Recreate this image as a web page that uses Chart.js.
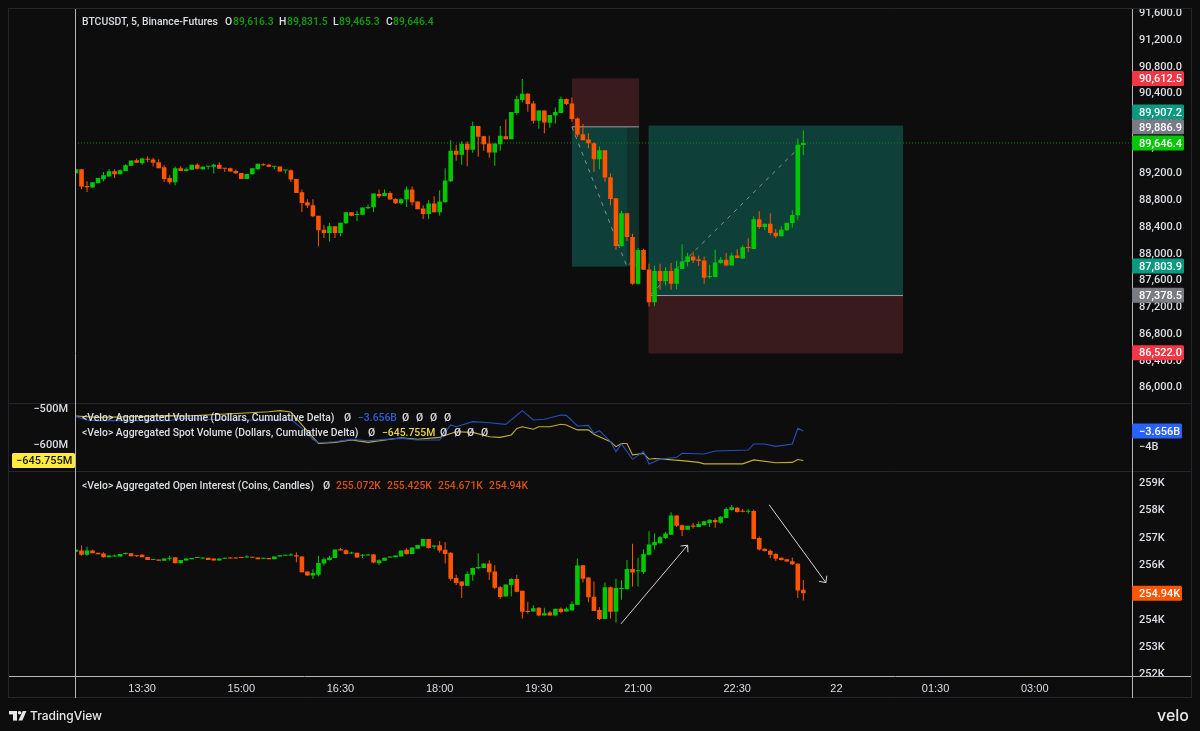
<!DOCTYPE html>
<html><head><meta charset="utf-8">
<style>html,body{margin:0;padding:0;background:#0d0d0d}canvas{display:block}</style>
<script src="https://cdn.jsdelivr.net/npm/chart.js@4"></script>
</head><body><canvas id="c" width="1200" height="731"></canvas>
<script>
// BTCUSDT 5-minute candles (one per bar, starting 12:30)
const btcOpen=[89193,89253,89003,88978,89043,89103,89143,89223,89178,89228,89303,89388,89343,89408,89398,89358,89283,89123,89058,89268,89228,89243,89318,89253,89288,89288,89318,89263,89268,89228,89198,89108,89178,89253,89323,89318,89288,89293,89233,89238,89108,88908,88758,88713,88558,88348,88298,88398,88298,88443,88608,88568,88573,88668,88683,88883,88853,88898,88808,88743,88798,88948,88768,88663,88583,88738,88608,88758,89073,89528,89468,89633,89543,89898,89748,89638,89503,89628,89748,89703,90093,90288,90383,90238,89978,90133,89948,90058,90093,90303,90238,90013,89778,89698,89643,89403,89538,89133,88818,88103,88593,88238,87538,88043,87753,87263,87728,87578,87728,87538,87758,87863,87948,87903,87888,87638,87638,87848,87898,87813,87963,87918,88083,88058,88503,88388,88438,88303,88248,88338,88448,88563,89616.3];
const btcHigh=[89253,89253,89073,89058,89123,89213,89253,89253,89248,89328,89383,89413,89423,89448,89423,89403,89313,89163,89293,89298,89278,89318,89343,89298,89298,89333,89358,89263,89278,89243,89198,89183,89268,89333,89343,89333,89293,89293,89238,89248,89108,88948,88803,88803,88558,88413,88453,88398,88453,88618,88608,88633,88678,88723,88888,88948,88948,88923,88818,88818,88993,88993,88768,88713,88793,88848,88938,89268,89688,89618,89673,89673,89963,89898,89753,89753,89638,89898,89998,90108,90353,90603,90393,90273,90133,90133,90063,90178,90343,90313,90328,90028,89928,89793,89658,89593,89538,89188,88818,88633,88593,88288,88073,88063,87838,87808,87838,87788,87848,87883,88128,88003,88023,87963,87948,87823,88048,87938,87998,88003,88053,88113,88218,88548,88623,88438,88593,88358,88398,88453,88638,89713,89831.5];
const btcLow=[89193,88953,88913,88978,89043,89073,89143,89123,89178,89228,89303,89348,89318,89358,89293,89268,89063,89028,89013,89228,89218,89243,89248,89243,89248,89188,89258,89213,89218,89183,89108,89108,89178,89243,89303,89283,89253,89218,89188,89063,88898,88613,88673,88533,88098,88223,88168,88223,88248,88433,88548,88478,88573,88658,88613,88823,88848,88798,88733,88723,88688,88708,88653,88508,88508,88608,88558,88758,89063,89378,89318,89298,89498,89438,89528,89423,89303,89528,89703,89703,90068,90253,90113,89938,89858,89793,89873,89938,90093,90213,89963,89738,89688,89568,89213,89253,89063,88713,88048,88088,88178,87523,87528,87748,87198,87203,87448,87513,87448,87458,87758,87798,87848,87803,87538,87613,87638,87838,87808,87813,87923,87908,88013,88058,88358,88338,88268,88223,88248,88328,88378,88488,89465.3];
const btcClose=[89253,88993,88983,89058,89123,89163,89223,89178,89238,89313,89383,89348,89413,89393,89348,89268,89108,89058,89268,89228,89253,89318,89258,89288,89298,89318,89258,89258,89218,89193,89108,89183,89268,89333,89313,89288,89293,89218,89238,89098,88898,88748,88708,88548,88338,88298,88398,88298,88453,88608,88558,88578,88678,88688,88888,88848,88898,88798,88743,88803,88948,88758,88653,88583,88738,88608,88768,89083,89528,89468,89633,89543,89898,89738,89628,89503,89638,89753,89703,90108,90303,90383,90228,89978,90133,89953,90063,90108,90303,90228,90003,89768,89688,89643,89403,89538,89128,88808,88103,88593,88238,87538,88043,87748,87263,87728,87578,87728,87538,87768,87873,87948,87888,87878,87628,87653,87858,87898,87813,87963,87923,88083,88073,88503,88388,88438,88298,88248,88348,88453,88568,89618,89646.4];
// Aggregated open interest candles, thousands of coins
const oiOpen=[256.46,256.51,256.35,256.51,256.42,256.40,256.26,256.29,256.29,256.38,256.41,256.32,256.35,256.27,256.16,256.18,256.13,256.20,256.26,256.04,256.14,256.19,256.23,256.21,256.24,256.21,256.14,256.20,256.25,256.25,256.26,256.25,256.27,256.25,256.20,256.23,256.19,256.29,256.31,256.32,256.33,256.29,255.74,255.59,255.62,256.03,256.16,256.23,256.55,256.52,256.40,256.42,256.31,256.32,256.36,256.04,256.13,256.25,256.26,256.29,256.53,256.38,256.57,256.66,256.93,256.64,256.70,256.53,256.42,255.50,255.37,255.22,255.62,255.86,255.87,256.03,255.74,255.16,254.82,255.24,255.46,255.03,254.29,254.27,254.41,254.13,254.24,254.13,254.37,254.27,254.31,254.52,255.97,255.52,254.81,254.33,254.00,255.16,254.26,255.10,255.09,255.83,255.75,255.72,256.35,256.70,256.77,256.96,257.08,257.79,257.43,257.27,257.42,257.37,257.43,257.51,257.62,257.52,257.70,257.99,258.07,257.96,257.93,257.95,256.96,256.57,256.50,256.38,256.24,256.19,256.11,256.02,255.072];
const oiHigh=[256.53,256.69,256.64,256.53,256.42,256.44,256.32,256.35,256.38,256.43,256.41,256.32,256.37,256.27,256.19,256.18,256.21,256.31,256.26,256.16,256.21,256.23,256.25,256.25,256.24,256.21,256.21,256.23,256.25,256.25,256.26,256.33,256.27,256.25,256.24,256.23,256.29,256.33,256.33,256.41,256.43,256.29,255.74,255.82,256.31,256.25,256.31,256.54,256.60,256.55,256.46,256.42,256.38,256.36,256.38,256.19,256.24,256.27,256.32,256.51,256.59,256.62,256.71,256.93,256.93,256.69,256.85,256.82,256.44,255.62,255.37,255.74,255.88,256.41,256.03,256.15,255.97,255.21,255.26,255.49,255.62,255.03,254.63,254.50,254.43,254.41,254.29,254.37,254.42,254.43,254.65,256.21,255.97,255.52,255.37,254.43,255.33,255.19,255.47,255.42,256.16,256.75,256.24,256.55,257.21,257.14,257.04,257.19,257.91,257.79,257.46,257.41,257.51,257.57,257.60,257.65,257.69,257.76,258.08,258.17,258.10,258.03,258.02,258.00,257.02,256.59,256.54,256.41,256.26,256.20,256.25,256.04,255.425];
const oiLow=[256.46,256.31,256.31,256.41,256.37,256.25,256.26,256.29,256.29,256.36,256.30,256.27,256.26,256.16,256.16,256.13,256.13,256.13,256.04,256.04,256.14,256.19,256.23,256.21,256.16,256.14,256.14,256.20,256.21,256.21,256.23,256.25,256.24,256.19,256.20,256.19,256.19,256.29,256.31,256.32,256.08,255.71,255.59,255.46,255.55,255.96,256.14,256.23,256.51,256.36,256.38,256.25,256.23,256.32,256.04,255.98,256.13,256.25,256.26,256.29,256.35,256.38,256.57,256.66,256.58,256.55,256.43,256.03,255.40,255.24,254.77,255.22,255.40,255.82,255.87,255.43,255.10,254.74,254.82,254.82,254.98,254.02,254.20,254.27,254.10,254.13,254.13,254.13,254.21,254.27,254.31,254.52,255.33,254.61,254.29,253.96,254.00,254.02,253.87,254.70,255.09,255.19,255.19,255.65,256.32,256.54,256.75,256.93,257.08,257.37,257.04,257.27,257.31,257.37,257.43,257.37,257.34,257.49,257.70,257.96,257.90,257.91,257.85,256.92,256.51,256.47,256.23,256.13,256.14,256.09,255.98,254.77,254.671];
const oiClose=[256.53,256.35,256.51,256.41,256.37,256.26,256.32,256.32,256.38,256.41,256.30,256.30,256.26,256.16,256.19,256.13,256.21,256.23,256.04,256.16,256.21,256.23,256.25,256.25,256.16,256.14,256.21,256.23,256.21,256.21,256.23,256.29,256.24,256.19,256.24,256.19,256.29,256.33,256.33,256.35,256.29,255.71,255.59,255.68,256.05,256.19,256.25,256.54,256.51,256.38,256.43,256.25,256.35,256.36,256.07,256.15,256.24,256.27,256.32,256.51,256.38,256.62,256.71,256.93,256.60,256.69,256.51,256.38,255.47,255.32,255.22,255.65,255.87,255.90,256.03,255.71,255.14,254.80,255.26,255.46,255.00,254.26,254.25,254.39,254.13,254.21,254.13,254.37,254.25,254.37,254.55,255.96,255.47,254.79,254.29,254.00,255.16,254.26,255.13,255.13,255.83,255.70,255.77,256.38,256.73,256.82,256.99,257.13,257.79,257.41,257.26,257.41,257.38,257.48,257.58,257.63,257.54,257.74,258.03,258.09,257.92,257.93,257.96,256.93,256.54,256.49,256.35,256.20,256.16,256.10,256.00,255.04,254.94];
// Aggregated cumulative delta, dollars (billions), sampled at bar indices
const volBars=[0,2,4,10,17,19,24,29,38,39,41,43,44,47,50,53,56,59,62,66,68,69,72,75,78,81,83,85,88,89,91,93,94,95,97,98,99,101,103,104,106,109,110,114,116,122,123,125,127,130,131,132];
const volDelta=[-3.327,-3.404,-3.419,-3.419,-3.419,-3.365,-3.388,-3.404,-3.404,-3.388,-3.595,-3.847,-3.924,-3.901,-3.847,-3.878,-3.847,-3.824,-3.862,-3.862,-3.518,-3.557,-3.442,-3.465,-3.503,-3.190,-3.404,-3.388,-3.289,-3.297,-3.541,-3.526,-3.710,-3.648,-3.901,-4.130,-3.954,-4.306,-4.130,-4.413,-4.306,-4.260,-4.168,-4.183,-4.115,-4.092,-3.954,-3.954,-4.008,-3.954,-3.595,-3.656];
// Aggregated spot cumulative delta, dollars (millions)
const spotBars=[0,4,10,17,20,29,35,37,39,41,44,47,50,53,59,62,66,68,69,72,75,77,79,80,81,83,84,86,88,89,91,93,94,97,98,99,100,101,103,104,105,110,113,114,121,123,127,130,131,132];
const spotDelta=[-521,-525,-523,-520,-521,-514,-509,-506,-510,-546,-598,-595,-588,-595,-582,-586,-581,-570,-565,-567,-579,-581,-574,-556,-551,-558,-551,-551,-544,-546,-560,-560,-572,-593,-607,-598,-598,-630,-626,-642,-640,-646,-651,-655,-655,-644,-652,-651,-643,-645.755];
// Axis ticks
const timeTickBars=[12,30,48,66,84,102,120,138,156,174];
const timeTickLabels=['13:30','15:00','16:30','18:00','19:30','21:00','22:30','22','01:30','03:00'];
const priceTicks=[86000,86400,86800,87200,87600,88000,88400,88800,89200,89600,90000,90400,90800,91200,91600];
const oiTicks=[252,253,254,255,256,257,258,259];
const volTicks=[-4];
const spotTicks=[-500,-600];
// Position drawings on the price pane (bar index / price)
const tradeA=[90,102.2,90612.5,89886.9,87795];
const tradeB=[103.9,150.1,89907.2,87362,86495];
const tradeAShadeStart=100;
const tradeAPath=[[90,89886.9],[100,87795],[101,87880]];
const tradeBPath=[[104.3,87378.5],[132,89640]];
// Arrows on the open interest pane
const arrowUp=[[98.9,253.82],[111,256.70]];
const arrowDown=[[125.8,258.18],[136.1,255.33]];
const lastPrice=89646.4;
// Colours
const UP='#00c800',DN='#ff5500',BG='#0d0d0d',TXT='#dcdee4',FRAME='#23262f',AXIS='#b4b4b4';
const FONT='Roboto',TICK='500 11px '+FONT,LEG='500 10.4px '+FONT;

const candle=(o,c)=>o.map((v,i)=>({x:i,y:[v,c[i]]}));
const wick=(l,h)=>l.map((v,i)=>({x:i,y:[v,h[i]]}));
const tone=(o,c)=>o.map((v,i)=>c[i]>=v?UP:DN);
const points=(b,v)=>b.map((x,i)=>({x,y:v[i]}));
const body={type:'bar',barThickness:4.6,minBarLength:1,borderWidth:0,inflateAmount:0,grouped:false};
const line={type:'bar',barThickness:1,minBarLength:1,borderWidth:0,inflateAmount:0,grouped:false};
const trace={type:'line',pointRadius:0,borderWidth:1.1,tension:0,xAxisID:'x'};
const kFmt=v=>v+'K';

const drawings={id:'drawings',
 beforeDraw(ch){const g=ch.ctx;g.save();g.fillStyle=BG;g.fillRect(0,0,1200,731);g.restore();},
 beforeDatasetsDraw(ch){
  const g=ch.ctx,X=ch.scales.x,Y=ch.scales.yPrice,px=v=>X.getPixelForValue(v),py=v=>Y.getPixelForValue(v);
  const box=(x0,x1,y0,y1,c)=>{g.fillStyle=c;g.fillRect(px(x0),py(y0),px(x1)-px(x0),py(y1)-py(y0));};
  g.save();
  box(tradeA[0],tradeA[1],tradeA[2],tradeA[3],'#391a1d');
  box(tradeA[0],tradeAShadeStart,tradeA[3],tradeA[4],'#0e3f39');
  box(tradeAShadeStart,tradeA[1],tradeA[3],tradeA[4],'#10302c');
  box(tradeB[0],tradeB[1],tradeB[2],tradeB[3],'#0e3f39');
  box(tradeB[0],tradeB[1],tradeB[3],tradeB[4],'#391a1d');
  g.strokeStyle='#9b9ea6';g.lineWidth=1;
  [tradeA,tradeB].forEach(t=>{g.beginPath();g.moveTo(px(t[0]),py(t[3]));g.lineTo(px(t[1]),py(t[3]));g.stroke();});
  g.strokeStyle='#8a9092';g.setLineDash([4,5]);
  [tradeAPath,tradeBPath].forEach(p=>{g.beginPath();p.forEach((q,i)=>i?g.lineTo(px(q[0]),py(q[1])):g.moveTo(px(q[0]),py(q[1])));g.stroke();});
  g.strokeStyle='#0c8a0c';g.setLineDash([1,2]);g.beginPath();g.moveTo(ch.chartArea.left,py(lastPrice));g.lineTo(ch.chartArea.right,py(lastPrice));g.stroke();
  g.restore();
 },
 afterDatasetsDraw(ch){
  const g=ch.ctx,X=ch.scales.x,Y=ch.scales.yOi;
  g.save();g.strokeStyle='#d4d4d4';g.lineWidth=1;
  [arrowUp,arrowDown].forEach(a=>{
   const x0=X.getPixelForValue(a[0][0]),y0=Y.getPixelForValue(a[0][1]),x1=X.getPixelForValue(a[1][0]),y1=Y.getPixelForValue(a[1][1]);
   const t=Math.atan2(y1-y0,x1-x0);
   g.beginPath();g.moveTo(x0,y0);g.lineTo(x1,y1);
   g.moveTo(x1-7*Math.cos(t-0.75),y1-7*Math.sin(t-0.75));g.lineTo(x1,y1);g.lineTo(x1-7*Math.cos(t+0.75),y1-7*Math.sin(t+0.75));g.stroke();
  });
  g.restore();
 },
 afterDraw(ch){
  const g=ch.ctx;g.save();
  // cover tick labels that run past the panes
  g.fillStyle=BG;g.fillRect(1133,0,67,8);g.fillRect(1133,677,67,21);
  const hline=(y,c)=>{g.strokeStyle=c;g.beginPath();g.moveTo(9,y);g.lineTo(1191,y);g.stroke();};
  const vline=(x,y0,y1,c)=>{g.strokeStyle=c;g.beginPath();g.moveTo(x,y0);g.lineTo(x,y1);g.stroke();};
  g.lineWidth=1;
  hline(8.5,FRAME);hline(403.5,FRAME);hline(471.5,FRAME);hline(697.5,FRAME);
  vline(8.5,8,698,FRAME);vline(1191.5,8,698,FRAME);
  hline(676.5,AXIS);vline(75.5,9,698,AXIS);vline(1132.5,9,698,AXIS);
  // legends
  const t=(s,x,y,c,f,a)=>{g.font=f||LEG;g.fillStyle=c;g.textAlign=a||'left';g.textBaseline='middle';g.fillText(s,x,y);};
  const GREEN='#0aa00a',ORG='#d9500f',BLUE='#2c5fd6',YEL='#e6d648';
  t('BTCUSDT, 5, Binance-Futures',82,22.5,TXT);
  [['O',225,'89,616.3',233],['H',279,'89,831.5',287],['L',333,'89,465.3',339],['C',386,'89,646.4',393]].forEach(r=>{t(r[0],r[1],22.5,TXT);t(r[2],r[3],22.5,GREEN);});
  t('<Velo> Aggregated Volume (Dollars, Cumulative Delta)',82,418.5,TXT);
  t('Ø',344,418.5,TXT);t('−3.656B',358,418.5,BLUE);
  [402,416,430,444].forEach(x=>t('Ø',x,418.5,TXT));
  t('<Velo> Aggregated Spot Volume (Dollars, Cumulative Delta)',82,433,TXT);
  t('Ø',368,433,TXT);t('−645.755M',382,433,YEL);
  [440,454,467,481].forEach(x=>t('Ø',x,433,TXT));
  t('<Velo> Aggregated Open Interest (Coins, Candles)',82,486,TXT);
  t('Ø',323,486,TXT);
  [['255.072K',336],['255.425K',387],['254.671K',438],['254.94K',489]].forEach(r=>t(r[0],r[1],486,ORG));
  // price tags
  const tag=(s,y,c,fg,x0,x1,ax)=>{g.fillStyle=c;g.beginPath();g.roundRect(x0,y-7.5,x1-x0,15,1.5);g.fill();t(s,ax,y+1,fg||'#ffffff',TICK);};
  const P=ch.scales.yPrice,yy=v=>P.getPixelForValue(v);
  tag('90,612.5',yy(90612.5),'#f23645',null,1132,1184,1139);
  tag('89,907.2',112,'#089981',null,1132,1184,1139);
  tag('89,886.9',yy(89886.9),'#787b86',null,1132,1184,1139);
  tag('89,646.4',yy(89646.4),UP,null,1132,1184,1139);
  tag('87,803.9',yy(87803.9),'#089981',null,1132,1184,1139);
  tag('87,378.5',yy(87365),'#787b86',null,1132,1184,1139);
  tag('86,522.0',yy(86507),'#f23645',null,1132,1184,1139);
  tag('−3.656B',ch.scales.yVol.getPixelForValue(-3.656),'#2962ff',null,1132,1182,1139);
  tag('254.94K',ch.scales.yOi.getPixelForValue(254.94),DN,null,1132,1182,1139);
  tag('−645.755M',ch.scales.ySpot.getPixelForValue(-645.755),'#ffeb3b','#131722',12,75,16);
  // footer marks
  g.fillStyle='#e8e8e8';
  g.fillRect(9,711,8,3.4);g.fillRect(13,711,4,9.6);
  g.beginPath();g.arc(19.6,712.8,1.8,0,7);g.fill();
  g.beginPath();g.moveTo(22.8,711);g.lineTo(26.4,711);g.lineTo(22.4,720.6);g.lineTo(18.4,720.6);g.closePath();g.fill();
  t('TradingView',30,716.5,'#e8e8e8','500 12px Inter');
  t('velo',1189,716,'#e8e8e8','500 16px Inter','right');
  g.restore();
 }};

const noGrid={display:false,drawTicks:false,offset:false};
const baseY=(pos)=>({position:pos,grid:noGrid,border:{display:false}});
const fixH=s=>{s.paddingTop=0;s.paddingBottom=0;};
const rightFit=s=>{s.width=68;fixH(s);};
const tickFont={family:'Roboto',size:11,weight:'500'};
const setTicks=a=>s=>{s.ticks=a.map(v=>({value:v}));};
const yTicks={autoSkip:false,padding:7,labelOffset:1,color:TXT,font:tickFont};

new Chart(document.getElementById('c'),{
 type:'bar',
 data:{datasets:[
  {...trace,data:points(volBars,volDelta),borderColor:'#2450c0',yAxisID:'yVol'},
  {...trace,data:points(spotBars,spotDelta),borderColor:'#c4ae38',yAxisID:'ySpot'},
  {...body,data:candle(btcOpen,btcClose),backgroundColor:tone(btcOpen,btcClose),yAxisID:'yPrice',xAxisID:'x'},
  {...line,data:wick(btcLow,btcHigh),backgroundColor:tone(btcOpen,btcClose),yAxisID:'yPrice',xAxisID:'x'},
  {...body,data:candle(oiOpen,oiClose),backgroundColor:tone(oiOpen,oiClose),yAxisID:'yOi',xAxisID:'x'},
  {...line,data:wick(oiLow,oiHigh),backgroundColor:tone(oiOpen,oiClose),yAxisID:'yOi',xAxisID:'x'}
 ]},
 options:{responsive:false,animation:false,events:[],devicePixelRatio:1,
  layout:{padding:{left:0,right:0,top:9,bottom:34}},
  plugins:{legend:{display:false},tooltip:{enabled:false}},
  scales:{
   x:{type:'linear',offset:false,position:'bottom',min:-0.18,max:191.65,grid:noGrid,border:{display:false},
    afterBuildTicks:setTicks(timeTickBars),
    afterFit:s=>{s.height=21;s.paddingLeft=0;s.paddingRight=0;},
    ticks:{autoSkip:false,maxRotation:0,minRotation:0,padding:6,color:TXT,font:{family:'Liberation Sans',size:11},
     callback:v=>timeTickLabels[timeTickBars.indexOf(v)]}},
   ySpot:{...baseY('left'),min:-1249.3,max:619,afterBuildTicks:setTicks(spotTicks),
    afterFit:s=>{s.width=75;fixH(s);},
    ticks:{...yTicks,callback:v=>'−'+Math.abs(v)+'M'}},
   yPrice:{...baseY('right'),stack:'panes',stackWeight:394.5,weight:1,min:85746,max:91651,
    afterBuildTicks:setTicks(priceTicks),afterFit:rightFit,
    ticks:{...yTicks,callback:v=>v.toLocaleString('en-US',{minimumFractionDigits:1})}},
   yVol:{...baseY('right'),stack:'panes',stackWeight:68,weight:2,min:-4.585,max:-3.025,
    afterBuildTicks:setTicks(volTicks),afterFit:rightFit,
    ticks:{...yTicks,callback:v=>'−'+Math.abs(v)+'B'}},
   yOi:{...baseY('right'),stack:'panes',stackWeight:204.5,weight:3,min:251.91,max:259.40,
    afterBuildTicks:setTicks(oiTicks),afterFit:rightFit,
    ticks:{...yTicks,callback:kFmt}}
  }
 },
 plugins:[drawings]
});
</script></body></html>
